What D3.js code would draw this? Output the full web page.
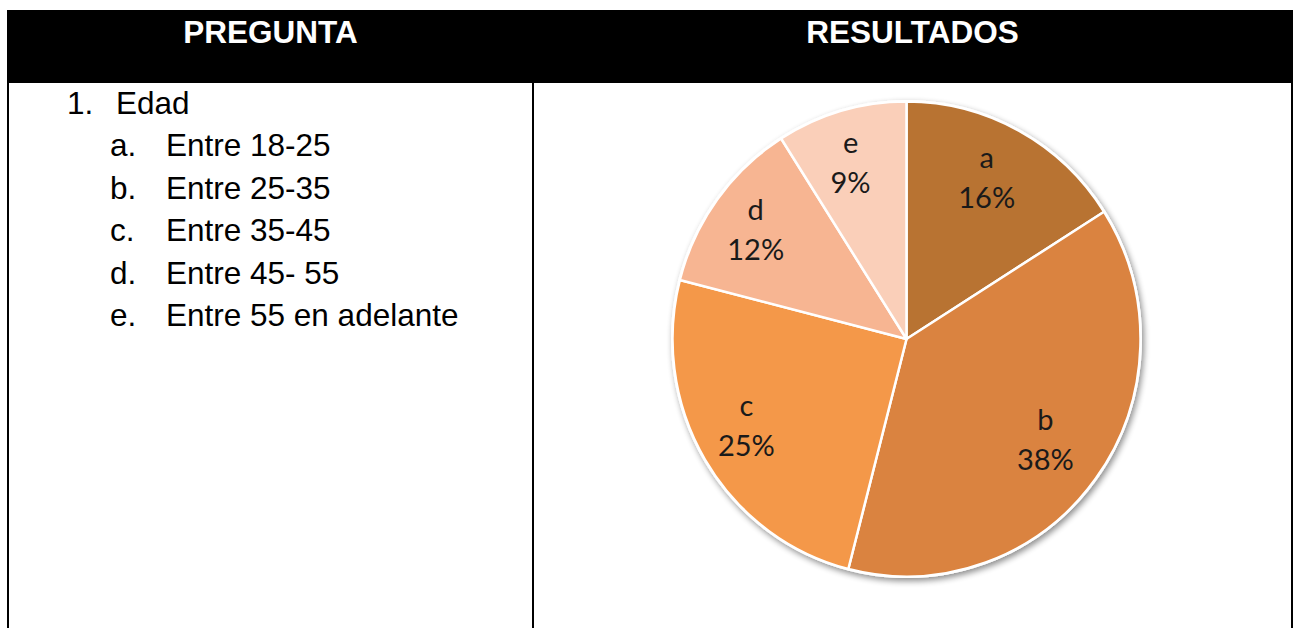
<!DOCTYPE html>
<html>
<head>
<meta charset="utf-8">
<script src="https://cdn.jsdelivr.net/npm/d3@7"></script>
<style>
  html, body { margin: 0; padding: 0; background: #fff; }
  svg { display: block; }
</style>
</head>
<body>
<svg id="chart" width="1296" height="628"></svg>
<script>
// ---- data ----
const headers = ["PREGUNTA", "RESULTADOS"];
const questionNumber = "1.";
const questionText = "Edad";
const optionLetters = ["a.", "b.", "c.", "d.", "e."];
const optionTexts = ["Entre 18-25", "Entre 25-35", "Entre 35-45", "Entre 45- 55", "Entre 55 en adelante"];
const categories = ["a", "b", "c", "d", "e"];
const values = [16, 38, 25, 12, 9];
const colors = ["#B87333", "#DA833F", "#F4984A", "#F7B592", "#FACFB9"];

// ---- layout ----
const svg = d3.select("#chart");
const W = 1296, H = 628;
const tableLeft = 8, tableRight = 1292, colSplit = 533;
const headerTop = 10, headerBottom = 83;

// header band
svg.append("rect")
  .attr("x", tableLeft - 1).attr("y", headerTop)
  .attr("width", tableRight - tableLeft + 2).attr("height", headerBottom - headerTop)
  .attr("fill", "#000");

// borders
const borderX = [tableLeft, colSplit, tableRight];
svg.selectAll("line.border").data(borderX).enter().append("line")
  .attr("class", "border")
  .attr("x1", d => d).attr("x2", d => d)
  .attr("y1", headerTop).attr("y2", H)
  .attr("stroke", "#000").attr("stroke-width", 2);

// header text
const colCenters = [(tableLeft + colSplit) / 2, (colSplit + tableRight) / 2];
svg.selectAll("text.hdr").data(headers).enter().append("text")
  .attr("class", "hdr")
  .attr("x", (d, i) => colCenters[i])
  .attr("y", 43)
  .attr("text-anchor", "middle")
  .attr("fill", "#fff")
  .attr("font-family", "Liberation Sans, Arial, sans-serif")
  .attr("font-weight", "bold")
  .attr("font-size", 31.5)
  .text(d => d);

// question list
const bodyFont = "Liberation Sans, Arial, sans-serif";
const bodySize = 31.5;
const lineY = i => 114 + 42.4 * i;

svg.append("text").attr("x", 67).attr("y", lineY(0))
  .attr("font-family", bodyFont).attr("font-size", bodySize).attr("fill", "#000")
  .text(questionNumber);
svg.append("text").attr("x", 116).attr("y", lineY(0))
  .attr("font-family", bodyFont).attr("font-size", bodySize).attr("fill", "#000")
  .text(questionText);

const opts = svg.selectAll("g.opt").data(optionTexts).enter().append("g").attr("class", "opt");
opts.append("text")
  .attr("x", 110).attr("y", (d, i) => lineY(i + 1))
  .attr("font-family", bodyFont).attr("font-size", bodySize).attr("fill", "#000")
  .text((d, i) => optionLetters[i]);
opts.append("text")
  .attr("x", 166).attr("y", (d, i) => lineY(i + 1))
  .attr("font-family", bodyFont).attr("font-size", bodySize).attr("fill", "#000")
  .text(d => d);

// ---- pie ----
const cx = 906.5, cy = 339, r = 234;
const defs = svg.append("defs");
const f = defs.append("filter").attr("id", "shadow")
  .attr("x", "-10%").attr("y", "-10%").attr("width", "120%").attr("height", "120%");
f.append("feGaussianBlur").attr("in", "SourceAlpha").attr("stdDeviation", 3).attr("result", "b");
f.append("feOffset").attr("in", "b").attr("dx", 1.5).attr("dy", 3).attr("result", "o");
f.append("feComponentTransfer").attr("in", "o").attr("result", "s")
  .append("feFuncA").attr("type", "linear").attr("slope", 0.45);
const m = f.append("feMerge");
m.append("feMergeNode").attr("in", "s");
m.append("feMergeNode").attr("in", "SourceGraphic");

const pieG = svg.append("g").attr("transform", `translate(${cx},${cy}) scale(1,1.015)`);
const pie = d3.pie().sort(null).value(d => d.v);
const data = categories.map((c, i) => ({ c, v: values[i], col: colors[i] }));
const arcs = pie(data);
const arc = d3.arc().innerRadius(0).outerRadius(r);

const sliceG = pieG.append("g").attr("filter", "url(#shadow)");
sliceG.append("circle").attr("r", r + 1.5).attr("fill", "#fff");
sliceG.selectAll("path").data(arcs).enter().append("path")
  .attr("d", arc)
  .attr("fill", d => d.data.col)
  .attr("stroke", "#fff")
  .attr("stroke-width", 2.5)
  .attr("stroke-linejoin", "round");

const labelArc = d3.arc().innerRadius(r * 0.765).outerRadius(r * 0.765);
const lab = pieG.selectAll("g.lab").data(arcs).enter().append("g")
  .attr("class", "lab")
  .attr("transform", d => {
    const [x, y] = labelArc.centroid(d);
    return `translate(${x - 6},${y / 1.015 - 4}) scale(1,${1 / 1.015})`;
  });
lab.append("text")
  .attr("text-anchor", "middle").attr("y", -10)
  .attr("font-family", "Lato, 'Open Sans', sans-serif").attr("font-size", 29).attr("fill", "#1a1a1a")
  .text(d => d.data.c);
lab.append("text")
  .attr("text-anchor", "middle").attr("y", 30)
  .attr("font-family", "Lato, 'Open Sans', sans-serif").attr("font-size", 29).attr("fill", "#1a1a1a")
  .text(d => d.data.v + "%");
</script>
</body>
</html>
